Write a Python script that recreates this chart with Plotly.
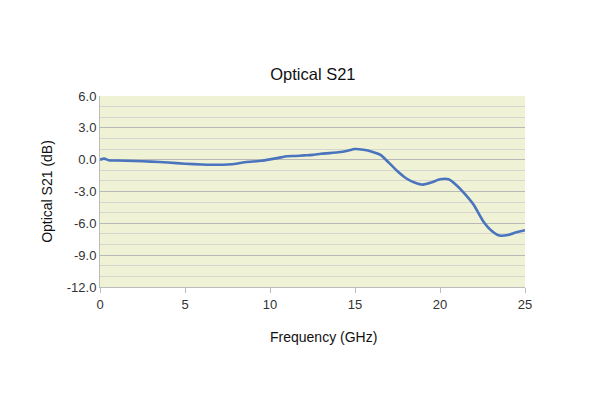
import plotly.graph_objects as go

freq = [0, 0.25, 0.5, 1, 2, 3, 4, 5, 6, 7, 7.5, 8, 8.5, 9, 9.5, 10, 10.5, 11, 11.5,
        12, 12.5, 13, 13.5, 14, 14.5, 15, 15.5, 16, 16.5, 17, 17.5, 18, 18.5, 19,
        19.5, 20, 20.5, 21, 21.5, 22, 22.5, 23, 23.5, 24, 24.5, 25]
s21 = [0.0, 0.1, -0.05, -0.08, -0.12, -0.18, -0.27, -0.38, -0.45, -0.48, -0.45,
       -0.38, -0.25, -0.18, -0.1, 0.03, 0.17, 0.32, 0.35, 0.4, 0.45, 0.55, 0.62,
       0.7, 0.82, 1.0, 0.93, 0.75, 0.45, -0.3, -1.1, -1.75, -2.15, -2.35, -2.15,
       -1.85, -1.85, -2.45, -3.3, -4.3, -5.7, -6.65, -7.15, -7.1, -6.85, -6.65]

y_ticks = [6, 3, 0, -3, -6, -9, -12]
y_ticklabels = ["6.0", "3.0", "0.0", "-3.0", "-6.0", "-9.0", "-12.0"]
x_ticks = [0, 5, 10, 15, 20, 25]

fig = go.Figure()
fig.add_trace(go.Scatter(x=freq, y=s21, mode="lines",
                         line=dict(color="#4A74BE", width=2.6, shape="spline", smoothing=0.6),
                         hoverinfo="skip", showlegend=False))

font_family = "Liberation Sans, Arial, sans-serif"
fig.update_layout(
    width=592, height=390,
    margin=dict(l=92, r=75, t=88, b=111),
    paper_bgcolor="white",
    plot_bgcolor="#F0F2D6",
    title=dict(text="Optical S21", x=0.515, xanchor="center", y=0.831, yanchor="middle",
               font=dict(family=font_family, size=16.5, color="#111111")),
    font=dict(family=font_family, color="#333333"),
    xaxis=dict(range=[0, 25], tickvals=x_ticks, showgrid=False, zeroline=False,
               showline=True, linecolor="#BDBDBD", linewidth=1,
               ticks="outside", ticklen=5, tickcolor="#BDBDBD",
               tickfont=dict(size=13, color="#333333")),
    yaxis=dict(range=[-12, 6], tickvals=y_ticks, ticktext=y_ticklabels,
               showgrid=True, gridcolor="#B9B9B9", gridwidth=1, zeroline=False,
               showline=True, linecolor="#BDBDBD", linewidth=1,
               ticks="", ticklen=0,
               minor=dict(dtick=1, showgrid=True, gridcolor="#D6D6D0", gridwidth=1),
               tickfont=dict(size=13, color="#333333"),
               title=dict(text="Optical S21 (dB)", standoff=10,
                          font=dict(size=14, color="#111111"))),
    annotations=[dict(text="Frequency (GHz)", xref="paper", yref="paper",
                      x=0.525, y=-0.26, xanchor="center", yanchor="middle",
                      showarrow=False, font=dict(size=14, color="#111111"))],
)

fig.write_html("out.html")
